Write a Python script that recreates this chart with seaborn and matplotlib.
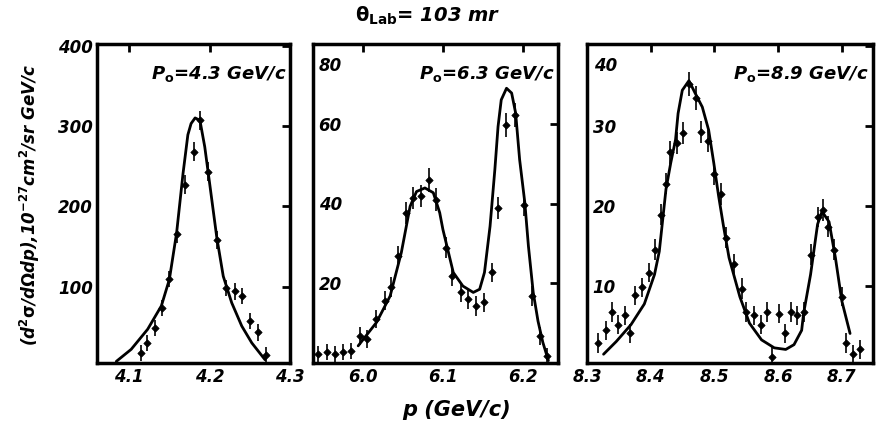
import numpy as np
import pandas as pd
import matplotlib
matplotlib.use("Agg")
import matplotlib.pyplot as plt
import seaborn as sns

sns.set_theme(style="white")
plt.rcParams['font.family'] = ['DejaVu Sans']
plt.rcParams['mathtext.default'] = 'bf'
plt.rcParams['text.color'] = 'black'
plt.rcParams['xtick.color'] = 'black'
plt.rcParams['ytick.color'] = 'black'
plt.rcParams['axes.labelcolor'] = 'black'

# ---- Panel 1: P0 = 4.3 GeV/c ----
p1_x = [4.115, 4.1225, 4.132, 4.141, 4.150, 4.160, 4.170, 4.180, 4.188,
        4.198, 4.209, 4.220, 4.231, 4.240, 4.250, 4.260, 4.270]
p1_y = [18, 30, 49, 73, 109, 165, 227, 268, 307, 243, 158, 98, 94, 88, 57, 43, 15]
p1_err = [10, 10, 10, 10, 10, 11, 12, 12, 12, 12, 11, 10, 10, 10, 10, 10, 10]
c1_x = [4.084, 4.1025, 4.123, 4.140, 4.150, 4.159, 4.167, 4.173, 4.177, 4.182,
        4.188, 4.194, 4.200, 4.209, 4.217, 4.2275, 4.240, 4.2525, 4.269]
c1_y = [7, 22, 47, 76, 109, 167, 241, 289, 303, 310, 307, 274, 229, 161, 113,
        80, 51, 30, 9]

# ---- Panel 2: P0 = 6.3 GeV/c ----
p2_x = [5.944, 5.955, 5.965, 5.975, 5.985, 5.996, 6.005, 6.016, 6.0275, 6.035,
        6.044, 6.054, 6.063, 6.072, 6.082, 6.092, 6.104, 6.112, 6.1225, 6.132,
        6.142, 6.152, 6.161, 6.169, 6.179, 6.190, 6.201, 6.212, 6.221, 6.230]
p2_y = [2.2, 2.7, 2.2, 2.7, 3.1, 6.8, 6.0, 11.0, 15.6, 19.0,
        26.8, 37.7, 41.4, 41.8, 46.0, 41.0, 28.9, 21.8, 17.7, 16.0,
        14.3, 15.2, 22.7, 38.9, 59.7, 62.2, 39.7, 16.8, 6.8, 1.8]
p2_err = [2.0, 2.0, 2.0, 2.0, 2.0, 2.2, 2.2, 2.3, 2.4, 2.5,
          2.6, 2.8, 2.8, 2.8, 3.0, 2.8, 2.6, 2.5, 2.4, 2.4,
          2.4, 2.4, 2.5, 2.8, 3.0, 3.0, 2.8, 2.4, 2.2, 2.0]
c2_x = [5.994, 6.017, 6.034, 6.048, 6.059, 6.067, 6.0775, 6.088, 6.096, 6.100,
        6.113, 6.125, 6.138, 6.146, 6.152, 6.159, 6.165, 6.169, 6.173, 6.1796,
        6.186, 6.191, 6.196, 6.2025, 6.207, 6.213, 6.219, 6.225, 6.232]
c2_y = [4.3, 10.2, 16.8, 27.7, 39.3, 43.0, 43.9, 42.7, 37.7, 33.5,
        22.7, 19.3, 17.7, 18.5, 22.7, 34.3, 48.5, 59.3, 66.0, 68.9,
        67.7, 62.7, 51.0, 40.2, 29.3, 17.7, 10.5, 5.2, 0.6]

# ---- Panel 3: P0 = 8.9 GeV/c ----
p3_x = [8.318, 8.330, 8.340, 8.349, 8.359, 8.368, 8.376, 8.387, 8.397, 8.406,
        8.416, 8.424, 8.431, 8.442, 8.451, 8.460, 8.471, 8.479, 8.490, 8.500,
        8.511, 8.519, 8.531, 8.543, 8.550, 8.562, 8.573, 8.583, 8.590, 8.602,
        8.611, 8.620, 8.630, 8.641, 8.651, 8.662, 8.671, 8.678, 8.688, 8.700,
        8.707, 8.717, 8.728]
p3_y = [2.8, 4.4, 6.7, 5.1, 6.3, 4.0, 8.8, 9.8, 11.6, 14.5,
        18.9, 22.8, 26.7, 27.9, 29.1, 35.3, 33.5, 29.3, 28.1, 24.0,
        21.5, 16.0, 12.7, 9.6, 6.7, 6.3, 5.1, 6.7, 1.1, 6.5,
        4.0, 6.7, 6.3, 6.7, 13.9, 18.6, 19.5, 17.4, 14.5, 8.6,
        2.8, 1.4, 2.0]
p3_err = [1.2, 1.2, 1.2, 1.2, 1.2, 1.2, 1.2, 1.2, 1.2, 1.3,
          1.3, 1.3, 1.4, 1.4, 1.4, 1.5, 1.5, 1.4, 1.4, 1.4,
          1.4, 1.3, 1.3, 1.3, 1.2, 1.2, 1.2, 1.2, 1.2, 1.2,
          1.2, 1.2, 1.2, 1.2, 1.3, 1.3, 1.4, 1.3, 1.3, 1.2,
          1.2, 1.2, 1.2]
c3_x = [8.326, 8.346, 8.369, 8.390, 8.406, 8.4135, 8.424, 8.4315, 8.439, 8.443,
        8.4496, 8.460, 8.470, 8.481, 8.491, 8.499, 8.5065, 8.514, 8.523, 8.540,
        8.555, 8.574, 8.594, 8.612, 8.625, 8.637, 8.640, 8.651, 8.662, 8.669,
        8.680, 8.690, 8.700, 8.713]
c3_y = [1.4, 3.0, 5.1, 7.7, 11.4, 14.3, 22.1, 25.4, 28.3, 31.6,
        34.5, 35.7, 34.1, 32.4, 29.5, 25.4, 21.3, 17.6, 13.5, 8.6,
        5.3, 3.2, 2.2, 2.0, 2.6, 4.4, 6.5, 11.4, 17.7, 19.3,
        18.0, 13.5, 8.1, 4.0]

panel_labels = ["4.3", "6.3", "8.9"]
xticks = [[4.1, 4.2, 4.3], [6.0, 6.1, 6.2], [8.3, 8.4, 8.5, 8.6, 8.7]]
yticks = [[100, 200, 300, 400], [20, 40, 60, 80], [10, 20, 30, 40]]
xlims = [(4.06, 4.30), (5.9375, 6.244), (8.305, 8.749)]
ylims = [(5, 402), (0, 80), (0.3, 40.3)]

W, H = 883, 434
fig = plt.figure(figsize=(W / 100, H / 100), dpi=100)
boxes = [(97, 290), (313, 558), (587, 873)]
top, bot = 44, 363
axes = []
for (l, r) in boxes:
    ax = fig.add_axes([l / W, (H - bot) / H, (r - l) / W, (bot - top) / H])
    axes.append(ax)

data = [(p1_x, p1_y, p1_err, c1_x, c1_y),
        (p2_x, p2_y, p2_err, c2_x, c2_y),
        (p3_x, p3_y, p3_err, c3_x, c3_y)]

tfont = dict(fontweight='bold', fontstyle='italic', color='black')
for i, ax in enumerate(axes):
    px, py, pe, cx, cy = data[i]
    cdf = pd.DataFrame({"p": cx, "s": cy})
    pdf = pd.DataFrame({"p": px, "s": py, "e": pe})
    sns.lineplot(data=cdf, x="p", y="s", ax=ax, color="black", lw=2.0,
                 sort=False, estimator=None)
    ax.errorbar(pdf["p"], pdf["s"], yerr=pdf["e"], fmt='none',
                ecolor='black', elinewidth=1.2, capsize=0)
    sns.scatterplot(data=pdf, x="p", y="s", ax=ax, marker='D', s=14,
                    color='black', edgecolor='black', linewidth=0.5)
    ax.set_xlim(*xlims[i])
    ax.set_ylim(*ylims[i])
    ax.set_xticks(xticks[i])
    ax.set_xticklabels([f"{t:.1f}" for t in xticks[i]], fontsize=12, **tfont)
    ax.set_yticks(yticks[i])
    ax.set_xlabel("")
    ax.set_ylabel("")
    ax.tick_params(direction='in', length=6, width=2, top=True, right=True,
                   colors='black')
    if i == 0:
        ax.set_yticklabels([str(t) for t in yticks[i]], fontsize=12, **tfont)
        ax.tick_params(axis='y', pad=3)
    else:
        labs = [str(t) for t in yticks[i]]
        top_lab = labs[-1]
        labs[-1] = ""
        ax.set_yticklabels(labs, fontsize=12, **tfont)
        ax.tick_params(axis='y', pad=-4)
        for lab in ax.get_yticklabels():
            lab.set_horizontalalignment('left')
        ax.text(0.025, 0.96, top_lab, transform=ax.transAxes, ha='left',
                va='top', fontsize=12, **tfont)
    for sp in ax.spines.values():
        sp.set_linewidth(2.5)
        sp.set_color('black')
    ax.text(0.985, 0.905, r"P$_o$=" + panel_labels[i] + " GeV/c",
            transform=ax.transAxes, ha='right', va='center',
            fontsize=13, **tfont)

fig.text(428 / W, 1 - 16 / H, r"$\theta_{Lab}$= 103 mr", ha='center',
         va='center', fontsize=14, **tfont)
fig.text(457 / W, 1 - 410 / H, "p (GeV/c)", ha='center', va='center',
         fontsize=15, **tfont)
fig.text(30 / W, 1 - 205 / H,
         r"(d$^2\sigma$/d$\Omega$dp),10$^{-27}$cm$^2$/sr GeV/c",
         rotation=90, ha='center', va='center', fontsize=12, **tfont)

fig.savefig("out.png", dpi=100, facecolor='white')
